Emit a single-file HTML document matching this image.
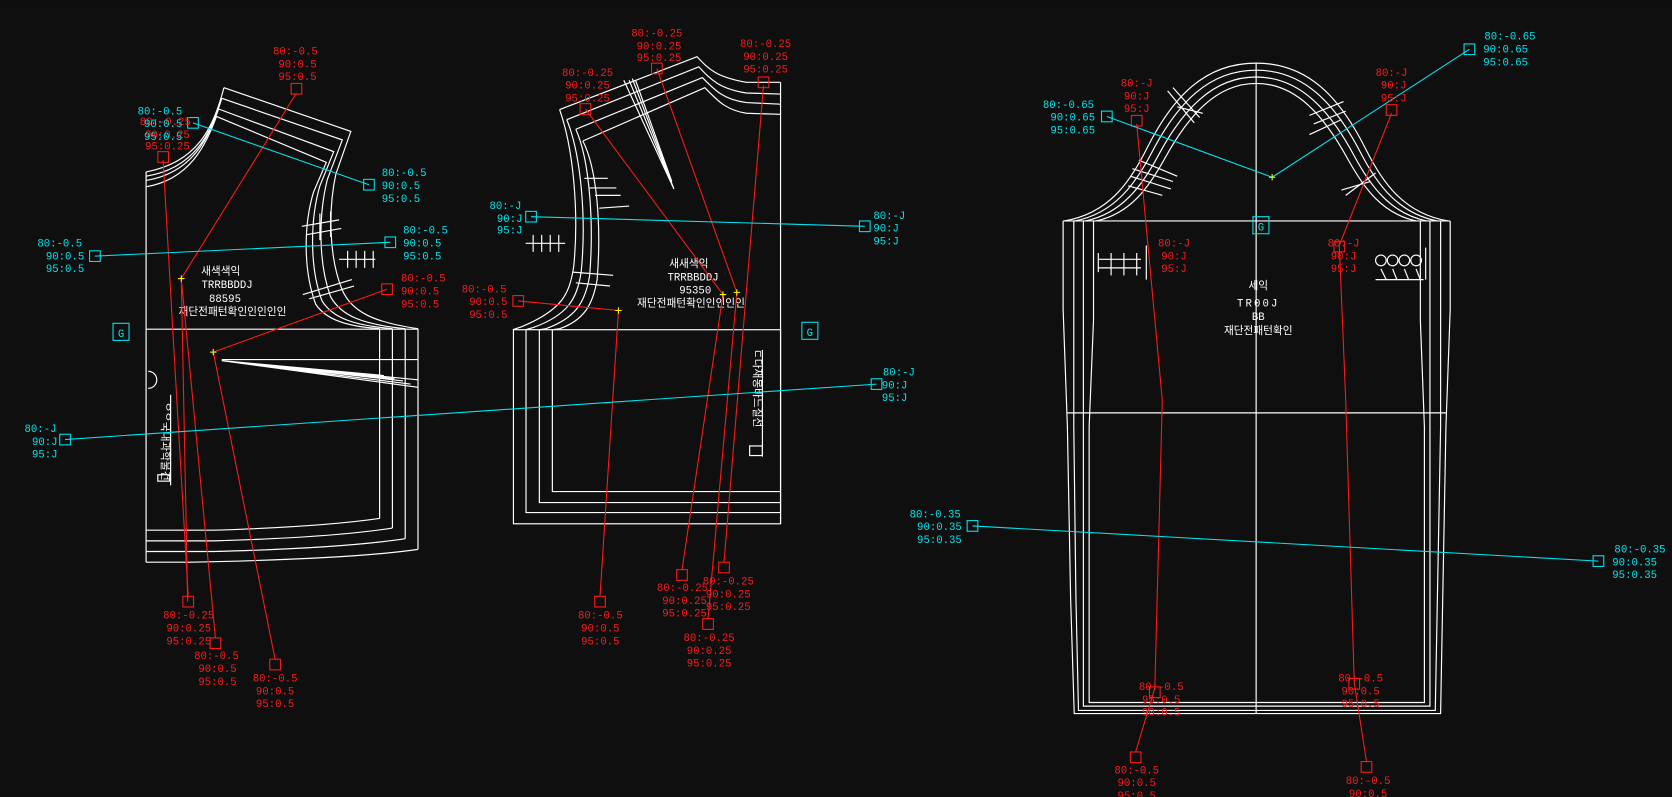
<!DOCTYPE html>
<html><head><meta charset="utf-8">
<style>
html,body{margin:0;padding:0;background:#0f0f0f;}
svg{display:block;}
text{font-family:"Liberation Mono","Noto Sans CJK KR",monospace;font-size:10px;}
.r{fill:#ff1a1a;} .c{fill:#00e5ee;} .w{fill:#fff;}
</style></head>
<body>
<svg width="1672" height="797" viewBox="0 0 1568 747" xmlns="http://www.w3.org/2000/svg">
<rect width="1568" height="747" fill="#0f0f0f"/>

<!-- ============ LEFT PIECE ============ -->
<g fill="none" stroke="#fff" stroke-width="1.1">
  <!-- shoulder lines -->
  <path d="M210,82 L329,123 L315,163 C308,195 308,240 321,272 C330,292 350,302 392,308"/>
  <path d="M208,92 L321,131 L307,168 C299,200 298,245 310,278 C320,296 340,304 380,308"/>
  <path d="M205,102 L313,142 L300,174 C291,205 290,250 302,282 C312,298 332,305 368,308"/>
  <path d="M203,109 L306,152 L294,180 C285,210 284,252 296,285 C306,300 326,306 356,308"/>
  <!-- neck curves -->
  <path d="M210,82 C200,120 185,152 137,161"/>
  <path d="M208,92 C198,125 182,158 137,165"/>
  <path d="M205,102 C195,130 180,162 137,169"/>
  <path d="M203,109 C193,136 178,168 137,175"/>
  <!-- body -->
  <path d="M137,161 L137,527"/>
  <path d="M137,308.5 L392,308.5 L392,515"/>
  <path d="M356,308 L356,486"/>
  <path d="M368,308 L368,495"/>
  <path d="M380,308 L380,505"/>
  <path d="M137,497 L200,497 Q300,494 356,486"/>
  <path d="M137,507 L200,507 Q310,504 368,495"/>
  <path d="M137,517 L200,517 Q320,514 380,505"/>
  <path d="M137,527 L180,527 Q330,524 392,515"/>
  <!-- dart -->
  <path d="M208,337 L392,337"/>
  <path d="M208,338 L392,363 M208,338 L385,360 M208,338 L378,357 M208,338 L370,355 M208,338 L360,352 M208,338 L392,356"/>
  <path d="M139,348 A8,8 0 0 1 139,364" />
  <!-- notch marks -->
  <path d="M318,243 L352,243 M326,235 L326,251 M334,235 L334,251 M342,235 L342,251 M350,235 L350,251"/>
  <path d="M283,212 L318,206 M287,220 L320,214 M284,276 L330,262 M290,280 L332,268 M300,200 L300,225 M310,198 L310,222"/>
  <!-- vertical text bar -->
  <path d="M160,370 L160,455"/>
  <rect x="148" y="445" width="11" height="6"/>
</g>
<text class="w" x="149" y="380" font-size="9" transform="rotate(90 152 380)">ᄋᄋ국내과학물건</text>
<g class="w" text-anchor="middle" font-size="10">
  <text x="207" y="257">새색색익</text>
  <text x="213" y="270" font-size="11">TRRBBDDJ</text>
  <text x="211" y="283" font-size="11">88595</text>
  <text x="218" y="295" font-size="9.5">재단전패턴확인인인인인</text>
</g>

<!-- ============ MIDDLE PIECE ============ -->
<g fill="none" stroke="#fff" stroke-width="1.1">
  <path d="M524.8,102.5 L653.7,53 C665,65 672,72 700,77 L732,77"/>
  <path d="M531.5,112 L655.4,62.5 C667,75 675,83 700,87 L732,88"/>
  <path d="M540,121 L658.7,72.5 C670,84 678,93 700,96 L732,97.5"/>
  <path d="M546.6,132 L661,82 C672,93 680,103 700,106 L732,107"/>
  <!-- armholes -->
  <path d="M524.8,102.5 C538,140 543,200 538,250 C534,275 528,290 489.6,306 L481,309"/>
  <path d="M531.5,112 C545,145 550,205 545,255 C541,280 533,295 500,307 L493,309"/>
  <path d="M540,121 C553,150 557,208 553,258 C549,283 540,298 512,308 L506,309"/>
  <path d="M546.6,132 C560,158 564,212 560,262 C556,285 548,300 525,308 L518,309"/>
  <!-- dart -->
  <path d="M585,75 L632,177 M593,73.5 L632,177 M590,75 L632,177 M596,75 L630,170"/>
  <!-- body -->
  <path d="M732,77 L732,491"/>
  <rect x="481.5" y="309" width="250.5" height="182"/>
  <path d="M493.3,309 L493.3,480.5 L732,480.5"/>
  <path d="M505.8,309 L505.8,471.1 L732,471.1"/>
  <path d="M518,309 L518,460.8 L732,460.8"/>
  <!-- notches -->
  <path d="M493,228 L530,228 M500,220 L500,236 M508,220 L508,236 M516,220 L516,236 M524,220 L524,236"/>
  <path d="M548,167 L570,167 M553,176 L578,176 M558,183 L582,183 M562,195 L590,193 M537,255 L575,258 M540,265 L572,268"/>
  <!-- vertical text box -->
  <path d="M715,328 L715,428"/>
  <rect x="703" y="418" width="12" height="9"/>
</g>
<text class="w" x="704" y="330" font-size="10" transform="rotate(90 707 330)">ㄷ다재봉바느질선</text>
<g class="w" text-anchor="middle">
  <text x="646" y="250">새새색익</text>
  <text x="650" y="263" font-size="11">TRRBBDDJ</text>
  <text x="652" y="275" font-size="11">95350</text>
  <text x="648" y="287" font-size="9.5">재단전패턴확인인인인인</text>
</g>

<!-- ============ RIGHT PIECE ============ -->
<g fill="none" stroke="#fff" stroke-width="1.1">
  <path d="M998,207 C1040,200 1060,170 1075,140 C1100,90 1130,59 1178,59 C1226,59 1256,90 1281,140 C1296,170 1316,200 1358,207"/>
  <path d="M1008,207 C1045,200 1065,172 1080,143 C1104,97 1133,65.6 1178,65.6 C1223,65.6 1252,97 1276,143 C1291,172 1311,200 1348,207"/>
  <path d="M1018,207 C1052,200 1071,174 1086,146 C1109,103 1137,72 1178,72 C1219,72 1247,103 1270,146 C1285,174 1304,200 1338,207"/>
  <path d="M1028,207 C1060,200 1077,176 1092,149 C1114,109 1140,78 1178,78 C1216,78 1242,109 1264,149 C1279,176 1296,200 1328,207"/>
  <path d="M997,207 L1360,207"/>
  <path d="M1178,59 L1178,669"/>
  <path d="M1001,387 L1357,387"/>
  <!-- sides -->
  <path d="M997,207 L997,290 L1001,400 L1004,560 L1007.4,669 L1351,669 L1353,560 L1356,400 L1360,290 L1360,207"/>
  <path d="M1007,207 L1007,400 L1009,560 L1011.4,666 L1346,666 L1348,560 L1351,400 L1351,207"/>
  <path d="M1016,207 L1016,662 L1341,662 L1341,207"/>
  <path d="M1025.5,207 L1025.5,300 L1021.4,400 L1021.4,658.6 L1335.8,658.6 L1335.8,400 L1332,300 L1332,207"/>
  <!-- notch marks -->
  <path d="M1030,243 L1070,243 M1030,251 L1070,251 M1030,237 L1030,255 M1042,237 L1042,258 M1054,237 L1054,258 M1066,237 L1066,258 M1075,230 L1075,262"/>
  <path d="M1290,262 L1335,262 M1337,232 L1337,262"/>
  <circle cx="1295" cy="244" r="5"/><circle cx="1306" cy="244" r="5"/><circle cx="1317" cy="244" r="5"/><circle cx="1328" cy="244" r="5"/>
  <path d="M1295,252 L1300,262 M1306,252 L1310,262 M1317,252 L1321,262 M1328,252 L1332,262"/>
  <path d="M1095,85 L1120,115 M1100,82 L1125,110 M1104,100 L1128,106 M1060,165 L1098,177 M1062,158 L1100,170 M1068,150 L1104,165 M1058,174 L1090,183"/>
  <path d="M1228,108 L1260,95 M1232,116 L1262,104 M1228,126 L1258,112 M1262,183 L1290,162 M1258,178 L1285,170"/>
</g>
<g class="w" text-anchor="middle">
  <text x="1180" y="271" font-size="11">세익</text>
  <text x="1180" y="287" font-size="14" letter-spacing="2">TR00J</text>
  <text x="1180" y="300" font-size="11">BB</text>
  <text x="1180" y="313" font-size="11">재단전패턴확인</text>
</g>

<!-- ============ CONNECTORS ============ -->
<g fill="none" stroke="#ff1a1a" stroke-width="1">
  <!-- left -->
  <path d="M278,87 L170,261 L176,564"/>
  <path d="M153,150 L162,309 L176.5,559"/>
  <path d="M170,261 L202,598"/>
  <path d="M363,271 L200,330 L258,618"/>
  <!-- mid -->
  <path d="M549,102 L678,276 L639.6,534"/>
  <path d="M616,64 L691,274 L664,580"/>
  <path d="M716,80 L697.7,300 L679,527"/>
  <path d="M486,282 L580,291 L562.7,559"/>
  <!-- right -->
  <path d="M1066,116 L1090,375 L1083,645 L1065,705"/>
  <path d="M1305,106 L1256,230 L1262,375 L1270,640 L1281.5,714"/>
  <!-- boxes -->
  <rect x="273" y="78" width="10" height="10"/>
  <rect x="148" y="142" width="10" height="10"/>
  <rect x="358" y="266" width="10" height="10"/>
  <rect x="171.5" y="559" width="10" height="10"/>
  <rect x="197" y="598" width="10" height="10"/>
  <rect x="253" y="618" width="10" height="10"/>
  <rect x="544" y="97" width="10" height="10"/>
  <rect x="611" y="59" width="10" height="10"/>
  <rect x="711" y="72" width="10" height="10"/>
  <rect x="481" y="277" width="10" height="10"/>
  <rect x="557.7" y="559" width="10" height="10"/>
  <rect x="634.6" y="534" width="10" height="10"/>
  <rect x="674" y="527" width="10" height="10"/>
  <rect x="659" y="580" width="10" height="10"/>
  <rect x="1061" y="108" width="10" height="10"/>
  <rect x="1300" y="98" width="10" height="10"/>
  <rect x="1251" y="226" width="10" height="10"/>
  <rect x="1078" y="644" width="10" height="10"/>
  <rect x="1265" y="636" width="10" height="10"/>
  <rect x="1060" y="705" width="10" height="10"/>
  <rect x="1276.5" y="714" width="10" height="10"/>
</g>
<g fill="none" stroke="#00e5ee" stroke-width="1">
  <path d="M181,115 L346,173"/>
  <path d="M89,240 L366,227"/>
  <path d="M61,412 L822,360"/>
  <path d="M498,203 L811,212"/>
  <path d="M1038,109 L1193,166 L1378,46"/>
  <path d="M912,493 L1499,526"/>
  <rect x="176" y="110" width="10" height="10"/>
  <rect x="341" y="168" width="10" height="10"/>
  <rect x="84" y="235" width="10" height="10"/>
  <rect x="361" y="222" width="10" height="10"/>
  <rect x="56" y="407" width="10" height="10"/>
  <rect x="817" y="355" width="10" height="10"/>
  <rect x="493" y="198" width="10" height="10"/>
  <rect x="806" y="207" width="10" height="10"/>
  <rect x="1033" y="104" width="10" height="10"/>
  <rect x="1373" y="41" width="10" height="10"/>
  <rect x="907" y="488" width="10" height="10"/>
  <rect x="1494" y="521" width="10" height="10"/>
  <!-- G boxes -->
  <rect x="106" y="303" width="15" height="16"/>
  <rect x="752" y="302" width="15" height="16"/>
  <rect x="1175" y="203" width="15" height="16"/>
</g>
<g class="c" text-anchor="middle" font-size="12">
  <text x="113.5" y="316">G</text><text x="759.5" y="315">G</text><text x="1182.5" y="216">G</text>
</g>
<!-- yellow crosses -->
<g stroke="#ffff00" stroke-width="1">
  <path d="M167,261 h6 M170,258 v6"/><path d="M197,330 h6 M200,327 v6"/>
  <path d="M577,291 h6 M580,288 v6"/><path d="M675,276 h6 M678,273 v6"/>
  <path d="M688,274 h6 M691,271 v6"/><path d="M1190,166 h6 M1193,163 v6"/>
</g>

<!-- ============ LABELS ============ -->
<g class="r" text-anchor="middle">
  <text x="277" y="51">80:-0.5</text><text x="279" y="63">90:0.5</text><text x="279" y="75">95:0.5</text>
  <text x="155" y="117">80:-0.25</text><text x="157" y="129">90:0.25</text><text x="157" y="140">95:0.25</text>
  <text x="397" y="264">80:-0.5</text><text x="394" y="276">90:0.5</text><text x="394" y="288">95:0.5</text>
  <text x="177" y="580">80:-0.25</text><text x="177" y="592">90:0.25</text><text x="177" y="604">95:0.25</text>
  <text x="203" y="618">80:-0.5</text><text x="204" y="630">90:0.5</text><text x="204" y="642">95:0.5</text>
  <text x="258" y="639">80:-0.5</text><text x="258" y="651">90:0.5</text><text x="258" y="663">95:0.5</text>

  <text x="551" y="71">80:-0.25</text><text x="551" y="83">90:0.25</text><text x="551" y="95">95:0.25</text>
  <text x="616" y="34">80:-0.25</text><text x="618" y="46">90:0.25</text><text x="618" y="57">95:0.25</text>
  <text x="718" y="44">80:-0.25</text><text x="718" y="56">90:0.25</text><text x="718" y="68">95:0.25</text>
  <text x="454" y="274">80:-0.5</text><text x="458" y="286">90:0.5</text><text x="458" y="298">95:0.5</text>
  <text x="563" y="580">80:-0.5</text><text x="563" y="592">90:0.5</text><text x="563" y="604">95:0.5</text>
  <text x="640" y="554">80:-0.25</text><text x="642" y="566">90:0.25</text><text x="642" y="578">95:0.25</text>
  <text x="683" y="548">80:-0.25</text><text x="683" y="560">90:0.25</text><text x="683" y="572">95:0.25</text>
  <text x="665" y="601">80:-0.25</text><text x="665" y="613">90:0.25</text><text x="665" y="625">95:0.25</text>

  <text x="1066" y="81">80:-J</text><text x="1066" y="93">90:J</text><text x="1066" y="105">95:J</text>
  <text x="1305" y="71">80:-J</text><text x="1307" y="83">90:J</text><text x="1307" y="95">95:J</text>
  <text x="1101" y="231">80:-J</text><text x="1101" y="243">90:J</text><text x="1101" y="255">95:J</text>
  <text x="1260" y="231">80:-J</text><text x="1260" y="243">90:J</text><text x="1260" y="255">95:J</text>
  <text x="1089" y="647">80:-0.5</text><text x="1089" y="659">95:0.5</text><text x="1089" y="671">90:0.5</text>
  <text x="1276" y="639">80:-0.5</text><text x="1276" y="651">90:0.5</text><text x="1276" y="663">95:0.5</text>
  <text x="1066" y="725">80:-0.5</text><text x="1066" y="737">90:0.5</text><text x="1066" y="749">95:0.5</text>
  <text x="1283" y="735">80:-0.5</text><text x="1283" y="747">90:0.5</text>
</g>
<g class="c" text-anchor="middle">
  <text x="150" y="107">80:-0.5</text><text x="153" y="119">90:0.5</text><text x="153" y="131">95:0.5</text>
  <text x="379" y="165">80:-0.5</text><text x="376" y="177">90:0.5</text><text x="376" y="189">95:0.5</text>
  <text x="399" y="219">80:-0.5</text><text x="396" y="231">90:0.5</text><text x="396" y="243">95:0.5</text>
  <text x="56" y="231">80:-0.5</text><text x="61" y="243">90:0.5</text><text x="61" y="255">95:0.5</text>
  <text x="38" y="405">80:-J</text><text x="42" y="417">90:J</text><text x="42" y="429">95:J</text>
  <text x="843" y="352">80:-J</text><text x="839" y="364">90:J</text><text x="839" y="376">95:J</text>
  <text x="474" y="196">80:-J</text><text x="478" y="208">90:J</text><text x="478" y="219">95:J</text>
  <text x="834" y="205">80:-J</text><text x="831" y="217">90:J</text><text x="831" y="229">95:J</text>
  <text x="1002" y="101">80:-0.65</text><text x="1006" y="113">90:0.65</text><text x="1006" y="125">95:0.65</text>
  <text x="1416" y="37">80:-0.65</text><text x="1412" y="49">90:0.65</text><text x="1412" y="61">95:0.65</text>
  <text x="877" y="485">80:-0.35</text><text x="881" y="497">90:0.35</text><text x="881" y="509">95:0.35</text>
  <text x="1538" y="518">80:-0.35</text><text x="1533" y="530">90:0.35</text><text x="1533" y="542">95:0.35</text>
</g>
</svg>
</body></html>
